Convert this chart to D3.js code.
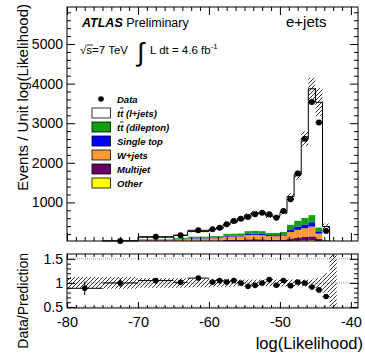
<!DOCTYPE html>
<html>
<head>
<meta charset="utf-8">
<script src="https://cdn.jsdelivr.net/npm/d3@7"></script>
<style>
body { margin: 0; background: #fff; }
text { font-family: "Liberation Sans", Arial, Helvetica, sans-serif; }
</style>
</head>
<body>
<svg id="vis" width="365" height="354"></svg>
<script>
// bin edges in log(Likelihood), values are events per unit
const binEdges = [-80, -75, -70, -65, -63, -60, -59, -58, -57, -56, -55, -54, -53, -52, -51, -50, -49, -48, -47, -46, -45, -44, -43, -42];
const dataVals = [8, 25, 130, 170, 295, 320, 360, 450, 530, 590, 630, 700, 740, 700, 615, 780, 1080, 1730, 2610, 3535, 3020, 280, 0];
const ttLjets = [5, 13, 54, 58, 128, 164, 193, 231, 290, 370, 402, 452, 465, 419, 417, 488, 709, 1156, 2000, 3190, 3160, 340, 1];
const ttDilep = [1, 2, 17, 28, 35, 37, 37, 52, 53, 53, 70, 72, 70, 59, 58, 65, 120, 148, 166, 182, 100, 13, 0];
const singleTop = [0, 1, 8, 12, 15, 16, 16, 24, 25, 26, 32, 34, 33, 28, 27, 31, 70, 87, 98, 110, 60, 8, 0];
const wJets = [2, 5, 30, 45, 55, 60, 60, 82, 85, 86, 105, 108, 104, 90, 88, 97, 160, 195, 220, 245, 130, 18, 0];
const multijet = [1, 3, 12, 20, 28, 30, 30, 42, 42, 44, 55, 57, 55, 47, 46, 50, 65, 78, 88, 98, 55, 8, 0];
const other = [0, 1, 3, 5, 7, 7, 7, 10, 10, 11, 13, 14, 13, 11, 11, 12, 25, 32, 38, 45, 25, 3, 0];
const relErr = [0.12, 0.12, 0.1, 0.1, 0.09, 0.08, 0.08, 0.08, 0.07, 0.07, 0.07, 0.07, 0.07, 0.07, 0.07, 0.07, 0.07, 0.07, 0.07, 0.07, 0.1, 0.2, 5];

const yTicksMain = [1000, 2000, 3000, 4000, 5000];
const xTicks = [-80, -70, -60, -50, -40];
const yTicksRatio = [0.5, 1, 1.5];

const legendItems = [
    {key: 'data', label: 'Data'},
    {key: 'ljets', label: ' (l+jets)'},
    {key: 'dilep', label: ' (dilepton)'},
    {key: 'stop', label: 'Single top'},
    {key: 'wjets', label: 'W+jets'},
    {key: 'multijet', label: 'Multijet'},
    {key: 'other', label: 'Other'}
];

const colors = {
    "other": "#ffff00",
    "multijet": "#660066",
    "wjets": "#ff9933",
    "stop": "#0000ff",
    "dilep": "#10a010",
    "ljets": "#ffffff"
};
const keys = ['other', 'multijet', 'wjets', 'stop', 'dilep', 'ljets'];

const svg = d3.select('#vis');
const L = 67, R = 358;
const mainTop = 7, mainBot = 241;
const ratTop = 254, ratBot = 308;

const x = d3.scaleLinear().domain([-80, -39]).range([L, R]);
const y = d3.scaleLinear().domain([25, 5935]).range([mainBot, mainTop]);
const yr = d3.scaleLinear().domain([0.48, 1.6]).range([ratBot, ratTop]);

const bins = binEdges.slice(0, -1).map(function (lo, i) {
    return {
        lo: lo, hi: binEdges[i + 1],
        other: other[i], multijet: multijet[i], wjets: wJets[i],
        stop: singleTop[i], dilep: ttDilep[i], ljets: ttLjets[i],
        data: dataVals[i], err: relErr[i]
    };
});
bins.forEach(function (d) {
    d.total = keys.reduce(function (s, k) { return s + d[k]; }, 0);
    d.w = d.hi - d.lo;
    d.dataErr = Math.sqrt(d.data * d.w) / d.w;
});

// defs: hatch + clips
const defs = svg.append('defs');
const pat = defs.append('pattern')
    .attr('id', 'hatch')
    .attr('patternUnits', 'userSpaceOnUse')
    .attr('width', 4).attr('height', 4);
pat.append('path')
    .attr('d', 'M0,4 L4,0 M-1,1 L1,-1 M3,5 L5,3')
    .attr('stroke', '#000').attr('stroke-width', 0.8);
defs.append('clipPath').attr('id', 'clipMain')
    .append('rect').attr('x', L).attr('y', mainTop).attr('width', R - L).attr('height', mainBot - mainTop);
defs.append('clipPath').attr('id', 'clipRat')
    .append('rect').attr('x', L).attr('y', ratTop).attr('width', R - L).attr('height', ratBot - ratTop);

// ---- main panel ----
const main = svg.append('g').attr('clip-path', 'url(#clipMain)');
const series = d3.stack().keys(keys)(bins);

main.selectAll('.layer')
    .data(series)
    .enter().append('g')
    .attr('class', 'layer')
    .attr('fill', function (s) { return colors[s.key]; })
    .selectAll('rect')
    .data(function (s) { return s; })
    .enter().append('rect')
    .attr('x', function (d) { return x(d.data.lo); })
    .attr('width', function (d) { return x(d.data.hi) - x(d.data.lo); })
    .attr('y', function (d) { return y(d[1]); })
    .attr('height', function (d) { return Math.max(0, y(d[0]) - y(d[1])); });

// uncertainty hatch
main.selectAll('.band')
    .data(bins)
    .enter().append('rect')
    .attr('class', 'band')
    .attr('x', function (d) { return x(d.lo); })
    .attr('width', function (d) { return x(d.hi) - x(d.lo); })
    .attr('y', function (d) { return y(d.total * (1 + d.err)); })
    .attr('height', function (d) { return y(d.total * (1 - Math.min(d.err, 1))) - y(d.total * (1 + d.err)); })
    .attr('fill', 'url(#hatch)');

// outline of total
let outline = 'M' + x(bins[0].lo) + ',' + y(0);
bins.forEach(function (d) {
    outline += 'L' + x(d.lo) + ',' + y(d.total) + 'L' + x(d.hi) + ',' + y(d.total);
});
outline += 'L' + x(bins[bins.length - 1].hi) + ',' + y(0);
main.append('path')
    .attr('d', outline)
    .attr('fill', 'none')
    .attr('stroke', '#000')
    .attr('stroke-width', 1);

// data points
const pts = bins.filter(function (d) { return d.data > 0 && d.data >= y.domain()[0]; });
const dp = svg.append('g').selectAll('.pt')
    .data(pts)
    .enter().append('g')
    .attr('class', 'pt');
dp.append('line')
    .attr('x1', function (d) { return x(d.lo); })
    .attr('x2', function (d) { return x(d.hi); })
    .attr('y1', function (d) { return y(d.data); })
    .attr('y2', function (d) { return y(d.data); })
    .attr('stroke', '#000');
dp.append('line')
    .attr('x1', function (d) { return x((d.lo + d.hi) / 2); })
    .attr('x2', function (d) { return x((d.lo + d.hi) / 2); })
    .attr('y1', function (d) { return y(d.data + d.dataErr); })
    .attr('y2', function (d) { return y(Math.max(d.data - d.dataErr, 25)); })
    .attr('stroke', '#000');
dp.append('circle')
    .attr('cx', function (d) { return x((d.lo + d.hi) / 2); })
    .attr('cy', function (d) { return y(d.data); })
    .attr('r', 3)
    .attr('fill', '#000');

// axes main
function styleAxis(g) {
    g.select('.domain').remove();
    g.selectAll('line').attr('stroke', '#000');
    g.selectAll('text').attr('fill', '#000');
}
const plain = function (v) { return String(v); };
const minorMainY = d3.range(200, 5900, 200).filter(function (v) { return v % 1000 !== 0; });
const minorX = d3.range(-80, -39, 1.25).filter(function (v) { return v % 10 !== 0; });

svg.append('g').attr('transform', 'translate(' + L + ',0)')
    .call(d3.axisLeft(y).tickValues(yTicksMain).tickSize(-8).tickPadding(4).tickFormat(plain))
    .call(styleAxis)
    .selectAll('text').attr('font-size', 14);
svg.append('g').attr('transform', 'translate(' + L + ',0)')
    .call(d3.axisLeft(y).tickValues(minorMainY).tickSize(-4).tickFormat(''))
    .call(styleAxis);
svg.append('g').attr('transform', 'translate(' + R + ',0)')
    .call(d3.axisRight(y).tickValues(yTicksMain).tickSize(-8).tickFormat(''))
    .call(styleAxis);
svg.append('g').attr('transform', 'translate(' + R + ',0)')
    .call(d3.axisRight(y).tickValues(minorMainY).tickSize(-4).tickFormat(''))
    .call(styleAxis);
svg.append('g').attr('transform', 'translate(0,' + mainBot + ')')
    .call(d3.axisBottom(x).tickValues(xTicks).tickSize(-8).tickFormat(''))
    .call(styleAxis);
svg.append('g').attr('transform', 'translate(0,' + mainBot + ')')
    .call(d3.axisBottom(x).tickValues(minorX).tickSize(-4).tickFormat(''))
    .call(styleAxis);
svg.append('g').attr('transform', 'translate(0,' + mainTop + ')')
    .call(d3.axisTop(x).tickValues(xTicks).tickSize(-8).tickFormat(''))
    .call(styleAxis);
svg.append('g').attr('transform', 'translate(0,' + mainTop + ')')
    .call(d3.axisTop(x).tickValues(minorX).tickSize(-4).tickFormat(''))
    .call(styleAxis);
svg.append('rect')
    .attr('x', L).attr('y', mainTop).attr('width', R - L).attr('height', mainBot - mainTop)
    .attr('fill', 'none').attr('stroke', '#000');

// ---- ratio panel ----
const rat = svg.append('g').attr('clip-path', 'url(#clipRat)');
yTicksRatio.forEach(function (v) {
    rat.append('line')
        .attr('x1', L).attr('x2', R)
        .attr('y1', yr(v)).attr('y2', yr(v))
        .attr('stroke', '#999').attr('stroke-dasharray', '1,1');
});
rat.selectAll('.rband')
    .data(bins)
    .enter().append('rect')
    .attr('class', 'rband')
    .attr('x', function (d) { return x(d.lo); })
    .attr('width', function (d) { return x(d.hi) - x(d.lo); })
    .attr('y', function (d) { return yr(1 + d.err); })
    .attr('height', function (d) { return yr(1 - d.err) - yr(1 + d.err); })
    .attr('fill', 'url(#hatch)');

const rpts = bins.filter(function (d) { return d.data > 0; });
const rp = rat.selectAll('.rpt')
    .data(rpts)
    .enter().append('g')
    .attr('class', 'rpt');
rp.append('line')
    .attr('x1', function (d) { return x(d.lo); })
    .attr('x2', function (d) { return x(d.hi); })
    .attr('y1', function (d) { return yr(d.data / d.total); })
    .attr('y2', function (d) { return yr(d.data / d.total); })
    .attr('stroke', '#000');
rp.append('line')
    .attr('x1', function (d) { return x((d.lo + d.hi) / 2); })
    .attr('x2', function (d) { return x((d.lo + d.hi) / 2); })
    .attr('y1', function (d) { return yr((d.data + d.dataErr) / d.total); })
    .attr('y2', function (d) { return yr((d.data - d.dataErr) / d.total); })
    .attr('stroke', '#000');
rp.append('circle')
    .attr('cx', function (d) { return x((d.lo + d.hi) / 2); })
    .attr('cy', function (d) { return yr(d.data / d.total); })
    .attr('r', 2.8)
    .attr('fill', '#000');

const minorRatY = d3.range(0.5, 1.6, 0.1).filter(function (v) { return Math.abs(v * 2 - Math.round(v * 2)) > 0.01; });
svg.append('g').attr('transform', 'translate(' + L + ',0)')
    .call(d3.axisLeft(yr).tickValues(yTicksRatio).tickSize(-8).tickPadding(4).tickFormat(plain))
    .call(styleAxis)
    .selectAll('text').attr('font-size', 14);
svg.append('g').attr('transform', 'translate(' + L + ',0)')
    .call(d3.axisLeft(yr).tickValues(minorRatY).tickSize(-4).tickFormat(''))
    .call(styleAxis);
svg.append('g').attr('transform', 'translate(' + R + ',0)')
    .call(d3.axisRight(yr).tickValues(yTicksRatio).tickSize(-8).tickFormat(''))
    .call(styleAxis);
svg.append('g').attr('transform', 'translate(' + R + ',0)')
    .call(d3.axisRight(yr).tickValues(minorRatY).tickSize(-4).tickFormat(''))
    .call(styleAxis);
svg.append('g').attr('transform', 'translate(0,' + ratBot + ')')
    .call(d3.axisBottom(x).tickValues(xTicks).tickSize(-6).tickPadding(9).tickFormat(plain))
    .call(styleAxis)
    .selectAll('text').attr('font-size', 14.5);
svg.append('g').attr('transform', 'translate(0,' + ratBot + ')')
    .call(d3.axisBottom(x).tickValues(minorX).tickSize(-3).tickFormat(''))
    .call(styleAxis);
svg.append('g').attr('transform', 'translate(0,' + ratTop + ')')
    .call(d3.axisTop(x).tickValues(xTicks).tickSize(-6).tickFormat(''))
    .call(styleAxis);
svg.append('g').attr('transform', 'translate(0,' + ratTop + ')')
    .call(d3.axisTop(x).tickValues(minorX).tickSize(-3).tickFormat(''))
    .call(styleAxis);
svg.append('rect')
    .attr('x', L).attr('y', ratTop).attr('width', R - L).attr('height', ratBot - ratTop)
    .attr('fill', 'none').attr('stroke', '#000');

// ---- titles ----
svg.append('text')
    .attr('transform', 'translate(28,4) rotate(-90)')
    .attr('text-anchor', 'end')
    .attr('font-size', 15)
    .text('Events / Unit log(Likelihood)');
svg.append('text')
    .attr('transform', 'translate(28,253) rotate(-90)')
    .attr('text-anchor', 'end')
    .attr('font-size', 14)
    .text('Data/Prediction');
svg.append('text')
    .attr('x', 363).attr('y', 348.5)
    .attr('text-anchor', 'end')
    .attr('font-size', 16.5)
    .text('log(Likelihood)');

const atlas = svg.append('text').attr('x', 82).attr('y', 27).attr('font-size', 12.5);
atlas.append('tspan').attr('font-weight', 'bold').attr('font-style', 'italic').text('ATLAS');
atlas.append('tspan').text(' Preliminary');
svg.append('text').attr('x', 286).attr('y', 27).attr('font-size', 15).text('e+jets');

const sq = svg.append('text').attr('x', 80).attr('y', 54).attr('font-size', 11.5);
sq.append('tspan').text('\u221A');
sq.append('tspan').text('s=7 TeV');
svg.append('line')
    .attr('x1', 86.5).attr('x2', 93).attr('y1', 45).attr('y2', 45)
    .attr('stroke', '#000').attr('stroke-width', 0.8);
svg.append('text').attr('x', 137).attr('y', 61).attr('font-size', 26)
    .attr('font-family', 'DejaVu Sans').text('\u222B');
const lum = svg.append('text').attr('x', 150).attr('y', 54).attr('font-size', 11.5);
lum.append('tspan').text('L dt = 4.6 fb');
lum.append('tspan').attr('dy', -5).attr('font-size', 8).text('-1');

// ---- legend ----
const leg = svg.append('g');
legendItems.forEach(function (it, i) {
    const g = leg.append('g').attr('transform', 'translate(0,' + (99 + i * 14) + ')');
    if (it.key === 'data') {
        g.append('circle').attr('cx', 101).attr('cy', 0).attr('r', 2.8).attr('fill', '#000');
    } else {
        g.append('rect')
            .attr('x', 92).attr('y', -5).attr('width', 18.5).attr('height', 10)
            .attr('fill', colors[it.key]).attr('stroke', '#000').attr('stroke-width', 0.8);
    }
    const t = g.append('text').attr('x', 117).attr('y', 3.5)
        .attr('font-size', 9.5).attr('font-weight', 'bold').attr('font-style', 'italic');
    if (it.key === 'ljets' || it.key === 'dilep') {
        t.append('tspan').text('t');
        t.append('tspan').attr('text-decoration', 'overline').text('t');
        t.append('tspan').text(it.label);
    } else {
        t.text(it.label);
    }
});
</script>
</body>
</html>
